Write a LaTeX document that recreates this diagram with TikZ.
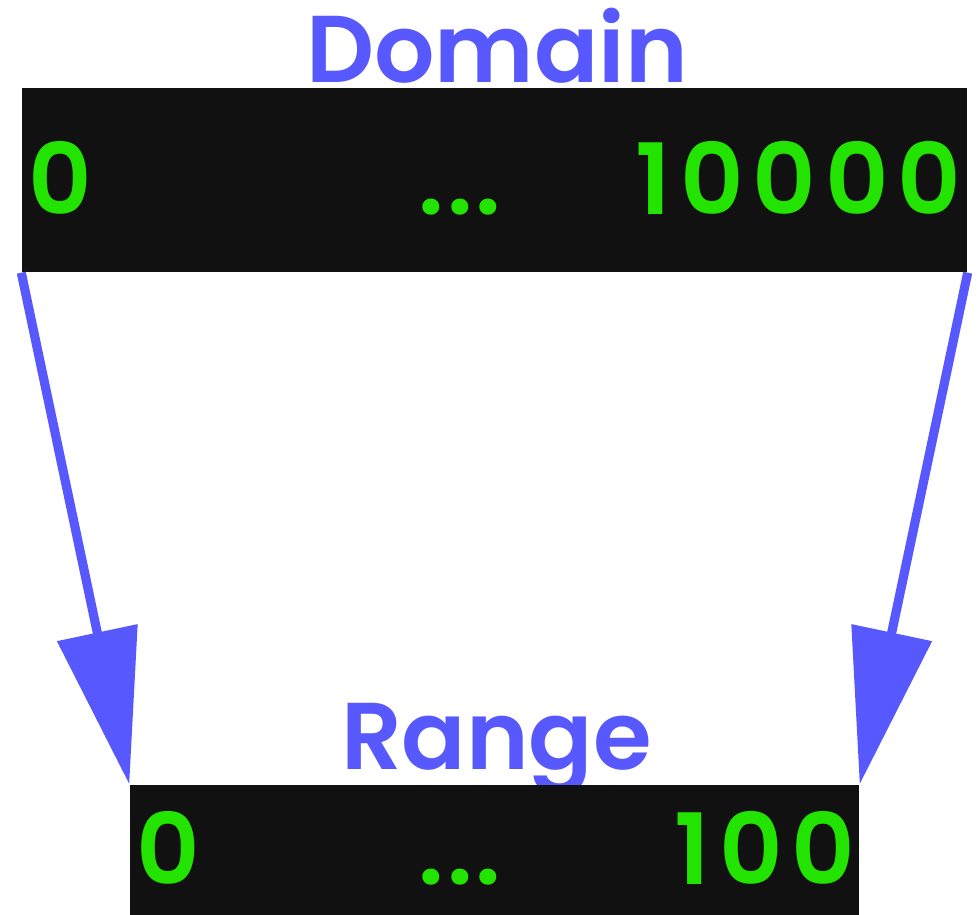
\documentclass[tikz,border=0pt]{standalone}
\usepackage{fontspec}
\setmainfont{Poppins}[BoldFont={Poppins SemiBold}]
\usepackage{xcolor}
\usepackage{tikz}
\usetikzlibrary{arrows.meta, positioning}

\definecolor{mapblue}{RGB}{88,88,255}
\definecolor{numgreen}{RGB}{34,228,0}
\definecolor{barblack}{RGB}{17,17,17}

\begin{document}
\begin{tikzpicture}[
  bar/.style={fill=barblack, inner sep=0, minimum height=1.84cm},
  num/.style={numgreen, inner sep=0, font=\fontsize{28}{28}\selectfont\bfseries\addfontfeature{LetterSpace=9}},
  dots/.style={numgreen, inner sep=0, anchor=base, font=\fontsize{28}{28}\selectfont\bfseries\addfontfeature{LetterSpace=3}},
  title/.style={mapblue, inner sep=0, anchor=base, font=\fontsize{27}{27}\selectfont\bfseries},
  map/.style={mapblue, line width=2.6pt, -{Triangle[length=1.55cm, width=0.8cm]}}
]
\useasboundingbox (0,0) rectangle (9.8,-9.15);
% Domain bar
\node[title] (domlabel) at (4.97,-0.82) {Domain};
\node[bar, minimum width=9.45cm] (dom) at (4.945,-1.80) {};
\node[num, anchor=base west] (domlow) at (0.28,-2.15) {0};
\node[dots] (domdots) at (4.60,-2.15) {...};
\node[num, anchor=base east] (domhigh) at (9.62,-2.15) {10000};

% Range bar
\node[title] (rnglabel) at (4.965,-7.70) {Range};
\node[bar, minimum width=7.29cm] (rng) at (4.945,-8.77) {};
\node[num, anchor=base west] (rnglow) at (1.36,-8.85) {0};
\node[dots] (rngdots) at (4.60,-8.85) {...};
\node[num, anchor=base east] (rnghigh) at (8.56,-8.85) {100};

% Arrows domain -> range
\draw[map] (dom.south west) -- (rng.north west);
\draw[map] (dom.south east) -- (rng.north east);
\end{tikzpicture}
\end{document}
